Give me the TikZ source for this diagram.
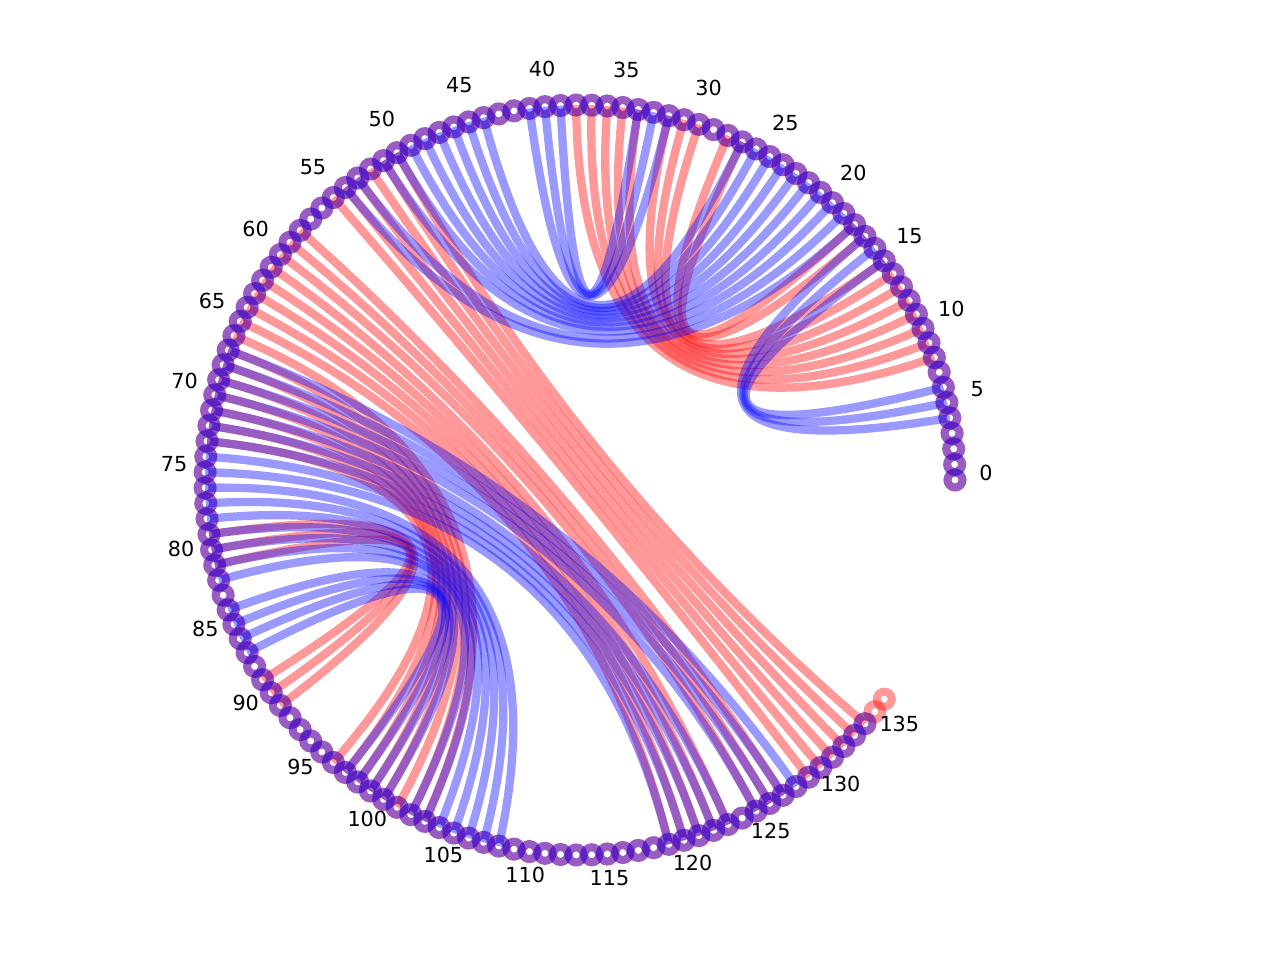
\documentclass[tikz,border=0pt]{standalone}
\usepackage{fontspec}
\setmainfont{DejaVu Sans}
\usetikzlibrary{calc}
\begin{document}
\begin{tikzpicture}[x=0.02cm,y=0.02cm,
  redarc/.style={draw=red, draw opacity=0.4, line width=4.72pt},
  bluearc/.style={draw=blue, draw opacity=0.4, line width=4.72pt},
  redring/.style={draw=red, draw opacity=0.4, line width=4.55pt},
  bluering/.style={draw=blue, draw opacity=0.4, line width=4.55pt},
  lbl/.style={font=\fontsize{11.8}{14}\selectfont, inner sep=0pt, text=black}]
\useasboundingbox (-580,-480) rectangle (700,480);
\coordinate (c) at (0,0);
\foreach \i in {0,...,136} { \coordinate (p\i) at ({\i*2.384106}:375); }
% red structure
\foreach \a/\b in {8/38,9/37,10/36,11/35,12/34,13/32,14/31,15/30,17/28,18/27,
  50/134,51/133,52/132,53/131,54/130,55/129,
  58/127,59/126,60/125,61/123,62/122,63/121,64/120,65/119,
  66/103,67/102,68/101,69/100,70/99,71/98,72/97,73/96,
  79/91,80/90,81/89}
  { \draw[redarc] (p\a) .. controls ($(p\a)!0.6667!(c)$) and ($(p\b)!0.6667!(c)$) .. (p\b); }
\foreach \i in {0,...,136} { \draw[redring] (p\i) circle[radius=7.5]; }
% blue structure
\foreach \a/\b in {4/17,5/16,6/15,18/54,19/53,20/51,21/50,22/49,23/48,24/47,25/46,26/45,27/44,
  32/41,33/40,34/39,
  67/128,68/127,69/126,70/125,71/123,72/122,73/121,74/120,75/119,
  76/108,77/107,78/106,79/105,80/104,81/103,82/102,84/100,85/99,86/98,87/97}
  { \draw[bluearc] (p\a) .. controls ($(p\a)!0.6667!(c)$) and ($(p\b)!0.6667!(c)$) .. (p\b); }
\foreach \i in {0,...,134} { \draw[bluering] (p\i) circle[radius=7.5]; }
% labels
\foreach \i in {0,5,...,135} { \node[lbl] (l\i) at ($({\i*2.384106}:406)+(0,7)$) {\i}; }
\end{tikzpicture}
\end{document}
